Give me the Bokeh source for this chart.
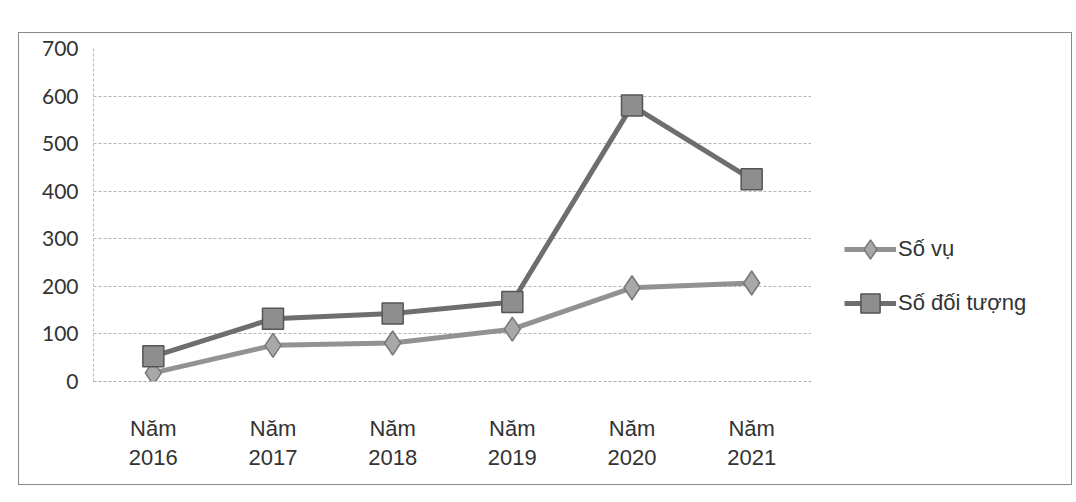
from bokeh.plotting import figure
from bokeh.models import (Legend, LegendItem, FactorRange, CategoricalAxis, Range1d,
                          CustomJSTickFormatter)
from bokeh.layouts import row
from bokeh.embed import file_html
from bokeh.resources import INLINE

years = ["2016", "2017", "2018", "2019", "2020", "2021"]
year_prefix = "Năm"
so_vu = [18, 76, 81, 110, 197, 207]
so_doi_tuong = [53, 132, 143, 167, 580, 425]
y_ticks = [0, 100, 200, 300, 400, 500, 600, 700]
series_names = ["Số vụ", "Số đối tượng"]

FONT_X = "Liberation Sans"
TEXT_C = "#333333"

p = figure(width=792, height=451,
           x_range=FactorRange(*years, range_padding=0),
           y_range=(0, 700),
           output_backend="svg", toolbar_location=None,
           min_border_left=74, min_border_right=0, min_border_top=15, min_border_bottom=103)
p.outline_line_color = None

p.xgrid.grid_line_color = None
p.ygrid.grid_line_color = "#b5b5b5"
p.ygrid.grid_line_dash = "3 2"
p.ygrid.grid_line_width = 1
p.yaxis.ticker = y_ticks
p.yaxis.axis_line_color = "#bbbbbb"
p.yaxis.axis_line_dash = "3 2"
p.yaxis.major_tick_line_color = None
p.yaxis.major_tick_out = 0
p.yaxis.minor_tick_line_color = None
p.yaxis.major_label_standoff = 15
p.yaxis.major_label_text_font = "Lato"
p.yaxis.major_label_text_font_size = "21px"
p.yaxis.major_label_text_color = TEXT_C

p.xaxis.axis_line_color = "#aaaaaa"
p.xaxis.axis_line_dash = "3 2"
p.xaxis.major_tick_line_color = None
p.xaxis.major_tick_out = 0
p.xaxis.major_label_standoff = 34
p.xaxis.major_label_text_font = FONT_X
p.xaxis.major_label_text_font_size = "22px"
p.xaxis.major_label_text_color = TEXT_C
p.xaxis.formatter = CustomJSTickFormatter(args=dict(prefix=year_prefix), code="return prefix;")

ax2 = CategoricalAxis(axis_line_color=None, major_tick_line_color=None, major_tick_out=0,
                      major_label_standoff=6, major_label_text_font=FONT_X,
                      major_label_text_font_size="22px", major_label_text_color=TEXT_C)
p.add_layout(ax2, "below")

style1 = dict(line_color="#929292", line_width=5)
mark1 = dict(marker="diamond", size=24, fill_color="#a8a8a8", line_color="#777777", line_width=1.5)
style2 = dict(line_color="#6e6e6e", line_width=5)
mark2 = dict(marker="square", size=21, fill_color="#8e8e8e", line_color="#555555", line_width=1.5)

p.line(years, so_vu, **style1)
p.scatter(years, so_vu, **mark1)
p.line(years, so_doi_tuong, **style2)
p.scatter(years, so_doi_tuong, **mark2)

# legend panel (dummy renderers kept outside the visible range)
pl = figure(width=260, height=451, output_backend="svg", toolbar_location=None,
            min_border=0, x_axis_type=None, y_axis_type=None,
            x_range=Range1d(0, 1), y_range=Range1d(0, 1))
pl.grid.visible = False
pl.outline_line_color = None
d1 = pl.line([-10, -9], [-10, -10], **style1)
e1 = pl.scatter([-10], [-10], **mark1)
d2 = pl.line([-10, -9], [-10, -10], **style2)
e2 = pl.scatter([-10], [-10], **mark2)
legend = Legend(items=[LegendItem(label=series_names[0], renderers=[d1, e1]),
                       LegendItem(label=series_names[1], renderers=[d2, e2])],
                location=(33, 54), glyph_width=52, glyph_height=48, spacing=6,
                label_standoff=2, padding=0, margin=0,
                border_line_alpha=0, background_fill_alpha=0,
                label_text_font=FONT_X, label_text_font_size="22px",
                label_text_color=TEXT_C)
pl.add_layout(legend, "center")

layout = row(p, pl, margin=(32, 0, 0, 18), styles={"border": "1.5px solid #8a8a8a"})

open("out.html", "w").write(file_html(layout, INLINE))
